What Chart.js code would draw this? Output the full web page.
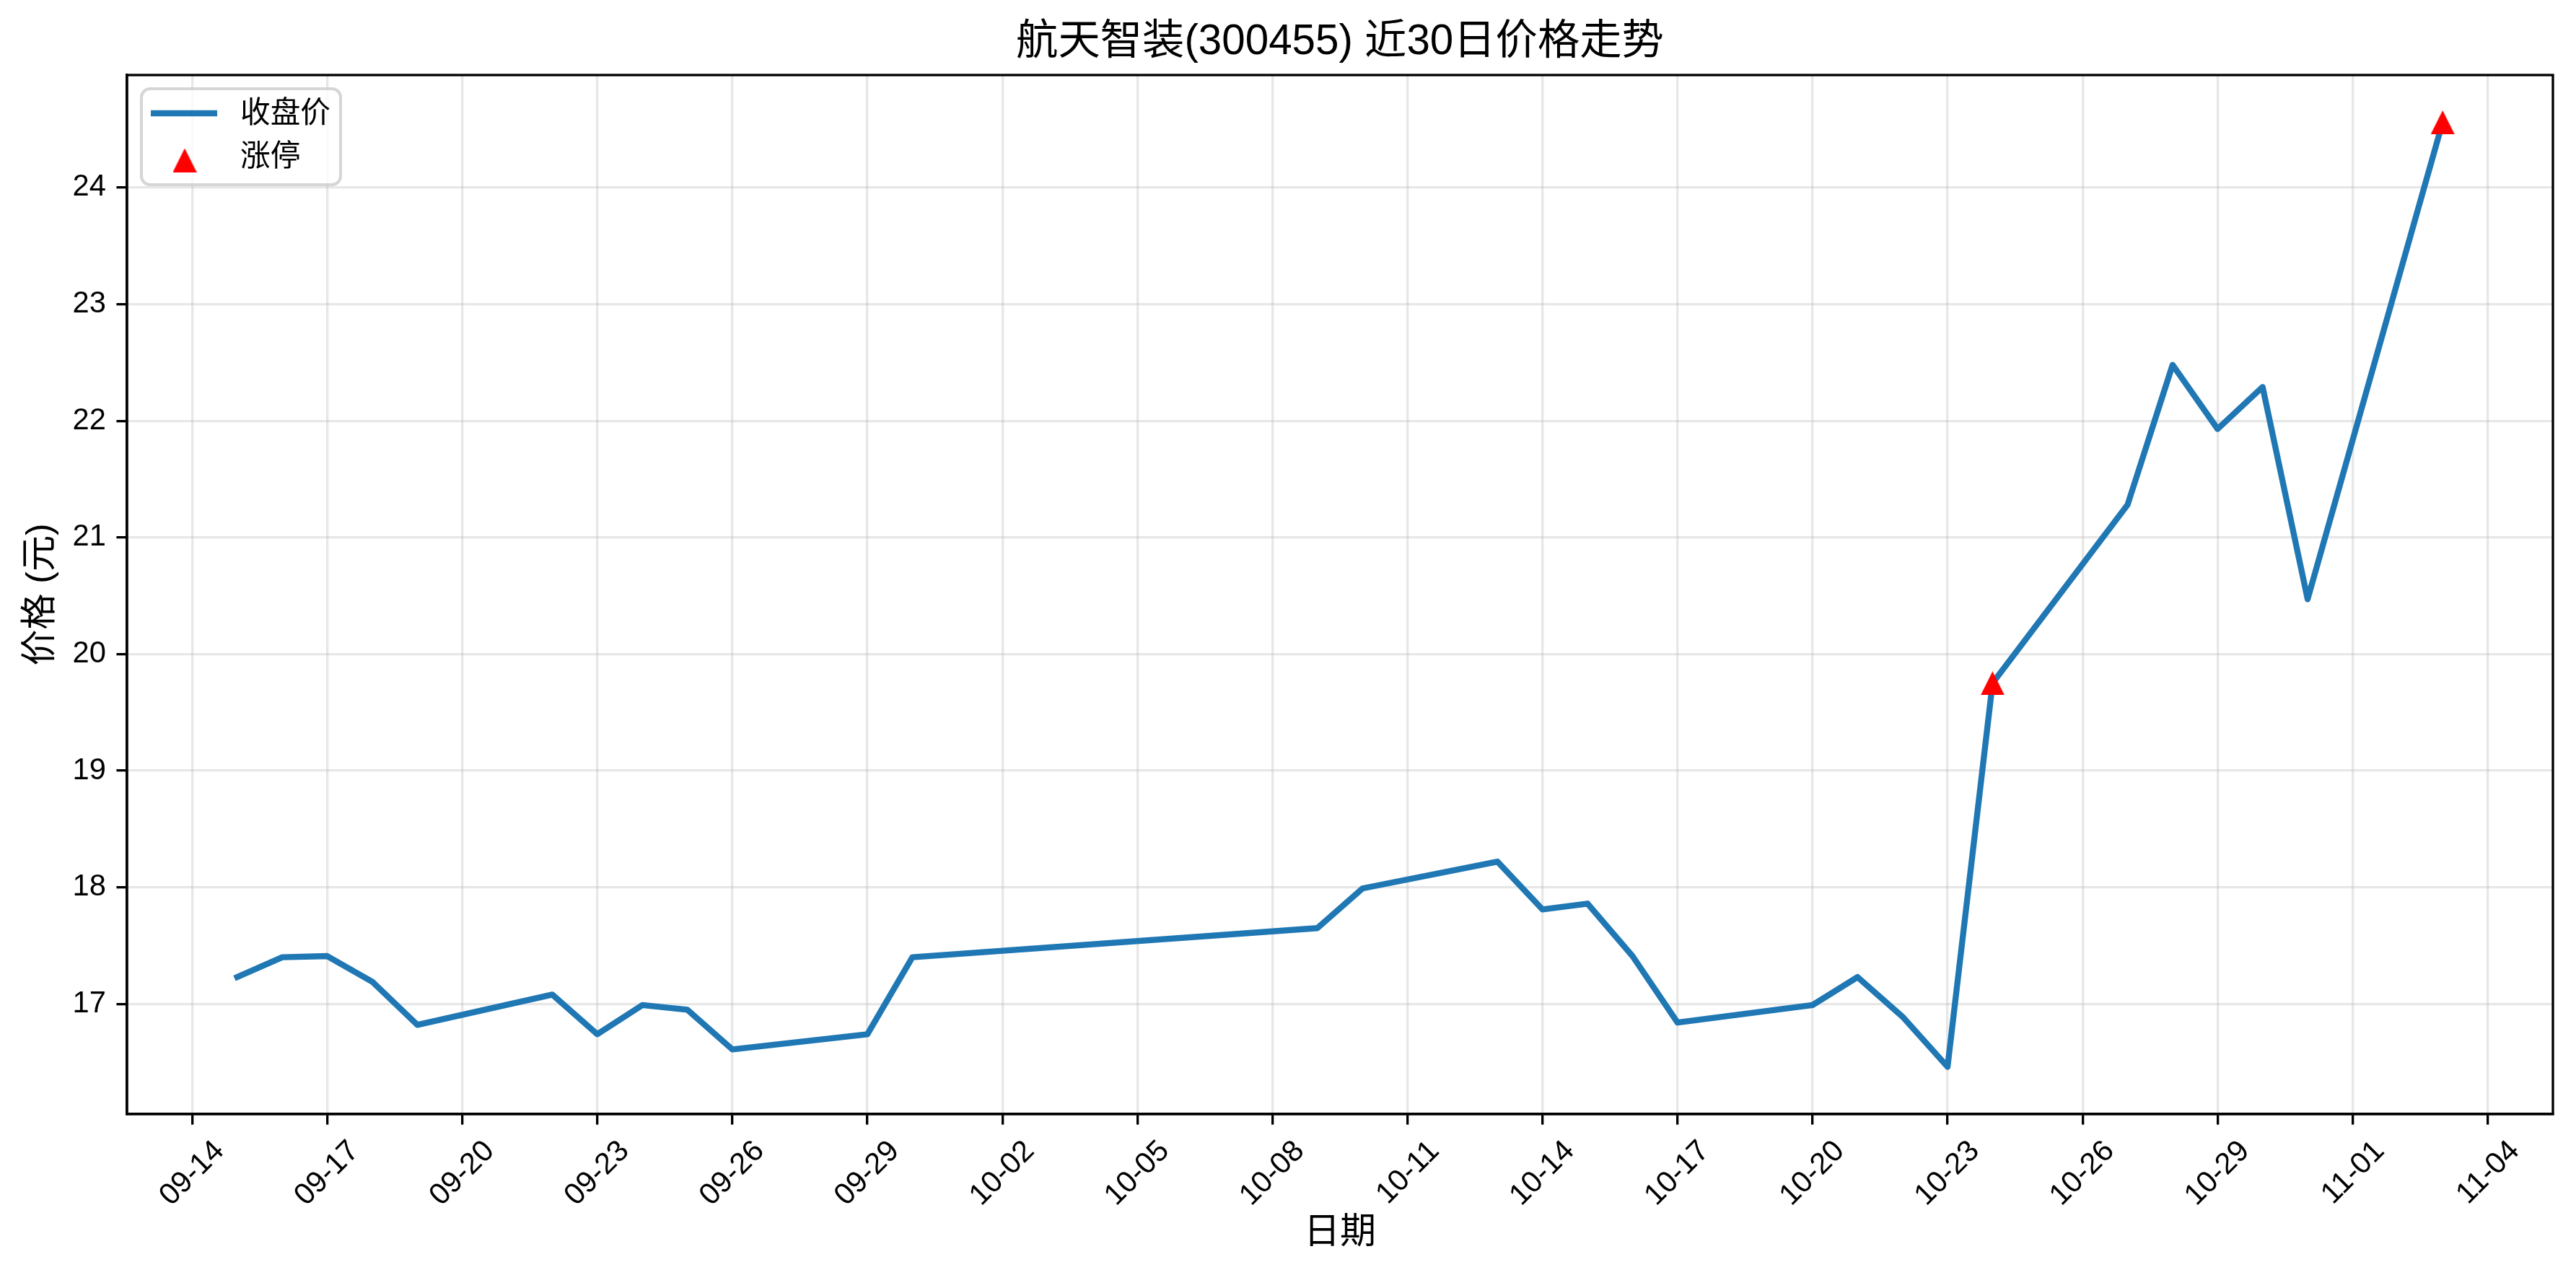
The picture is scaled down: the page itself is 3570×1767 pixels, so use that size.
<!DOCTYPE html>
<html lang="zh">
<head>
<meta charset="UTF-8">
<title>航天智装(300455) 近30日价格走势</title>
<script src="https://cdn.jsdelivr.net/npm/chart.js"></script>
<style>
  html, body { margin: 0; padding: 0; background: #fff; }
  #wrap { width: 3570px; height: 1767px; }
</style>
</head>
<body>
<div id="wrap"><canvas id="priceChart" width="3570" height="1767"></canvas></div>
<script>
// 交易日 (2025) 与收盘价
const dates = ['09-15','09-16','09-17','09-18','09-19','09-22','09-23','09-24','09-25','09-26',
               '09-29','09-30','10-09','10-10','10-13','10-14','10-15','10-16','10-17','10-20',
               '10-21','10-22','10-23','10-24','10-27','10-28','10-29','10-30','10-31','11-03'];
const closePrices = [17.23,17.40,17.41,17.19,16.82,17.08,16.74,16.99,16.95,16.61,
                     16.74,17.40,17.65,17.99,18.22,17.81,17.86,17.41,16.84,16.99,
                     17.23,16.89,16.46,19.75,21.28,22.48,21.93,22.29,20.47,24.56];
// 涨停日
const limitUpDates = ['10-24','11-03'];
const limitUpPrices = [19.75, 24.56];
// 刻度
const xTickLabels = ['09-14','09-17','09-20','09-23','09-26','09-29','10-02','10-05','10-08',
                     '10-11','10-14','10-17','10-20','10-23','10-26','10-29','11-01','11-04'];
const yTicks = [17, 18, 19, 20, 21, 22, 23, 24];

const FONT = '"Liberation Sans", "Noto Sans CJK SC", sans-serif';
const PT = 300 / 72;   // 1pt in px at 300dpi

function dayNum(md) {
    const [m, d] = md.split('-').map(Number);
    return Date.UTC(2025, m - 1, d) / 86400000;
}
const labelByDay = {};
xTickLabels.forEach(l => { labelByDay[dayNum(l)] = l; });

// matplotlib 风格的 5% 边距
const xs = dates.map(dayNum);
const xSpan = xs[xs.length - 1] - xs[0];
const xMin = xs[0] - xSpan * 0.05, xMax = xs[xs.length - 1] + xSpan * 0.05;
const yLo = Math.min(...closePrices), yHi = Math.max(...closePrices);
const yMin = yLo - (yHi - yLo) * 0.05, yMax = yHi + (yHi - yLo) * 0.05;

function triangleMarker(w, h, color) {
    const c = document.createElement('canvas');
    c.width = w; c.height = h;
    const g = c.getContext('2d');
    g.fillStyle = color;
    g.beginPath();
    g.moveTo(w / 2, 0); g.lineTo(w, h); g.lineTo(0, h);
    g.closePath(); g.fill();
    return c;
}
const redTri = triangleMarker(33, 33, '#ff0000');

// 外框 + 图例
const framePlugin = {
    id: 'frame',
    afterDatasetsDraw(chart) {
        const { ctx, chartArea: a } = chart;
        ctx.save();
        ctx.strokeStyle = '#000';
        ctx.lineWidth = 0.8 * PT;
        ctx.strokeRect(a.left, a.top, a.right - a.left, a.bottom - a.top);
        ctx.restore();
    },
    afterDraw(chart) {
        const { ctx, chartArea: a } = chart;
        const x0 = a.left + 20, y0 = a.top + 19, w = 276, h = 133, r = 12;
        ctx.save();
        ctx.beginPath();
        ctx.roundRect(x0, y0, w, h, r);
        ctx.fillStyle = 'rgba(255,255,255,0.8)';
        ctx.fill();
        ctx.strokeStyle = 'rgba(204,204,204,0.8)';
        ctx.lineWidth = PT;
        ctx.stroke();

        const line = chart.data.datasets[1];
        ctx.beginPath();
        ctx.moveTo(x0 + 13, y0 + 34);
        ctx.lineTo(x0 + 105, y0 + 34);
        ctx.strokeStyle = line.borderColor;
        ctx.lineWidth = line.borderWidth;
        ctx.lineCap = 'butt';
        ctx.stroke();
        ctx.drawImage(redTri, x0 + 60 - redTri.width / 2, y0 + 99 - redTri.height / 2);

        ctx.fillStyle = '#000';
        ctx.font = `${10 * PT}px ${FONT}`;
        ctx.textBaseline = 'middle';
        ctx.textAlign = 'left';
        ctx.fillText(line.label, x0 + 137, y0 + 36);
        ctx.fillText(chart.data.datasets[0].label, x0 + 137, y0 + 96);
        ctx.restore();
    }
};

new Chart(document.getElementById('priceChart'), {
    type: 'line',
    data: {
        datasets: [
            {
                label: '涨停',
                data: limitUpDates.map((d, i) => ({ x: dayNum(d), y: limitUpPrices[i] })),
                showLine: false,
                pointStyle: redTri,
                pointRadius: 16,
                order: 0
            },
            {
                label: '收盘价',
                data: dates.map((d, i) => ({ x: dayNum(d), y: closePrices[i] })),
                borderColor: '#1f77b4',
                borderWidth: 2 * PT,
                borderJoinStyle: 'round',
                borderCapStyle: 'square',
                pointRadius: 0,
                tension: 0,
                fill: false,
                order: 1
            }
        ]
    },
    options: {
        responsive: false,
        devicePixelRatio: 1,
        animation: false,
        events: [],
        layout: { padding: { left: 0, right: 32, top: 0, bottom: 0 } },
        plugins: {
            legend: { display: false },
            tooltip: { enabled: false },
            title: {
                display: true,
                text: '航天智装(300455) 近30日价格走势',
                fullSize: false,
                color: '#000',
                font: { family: FONT, size: 14 * PT, weight: 'normal' },
                padding: { top: 24, bottom: 10 }
            }
        },
        scales: {
            x: {
                type: 'linear',
                min: xMin,
                max: xMax,
                offset: false,
                afterFit(scale) { scale.height = 223; },
                afterBuildTicks(scale) { scale.ticks = xTickLabels.map(l => ({ value: dayNum(l) })); },
                grid: {
                    color: 'rgba(176,176,176,0.3)',
                    lineWidth: 0.8 * PT,
                    drawTicks: true,
                    tickLength: 3.5 * PT,
                    tickColor: '#000',
                    tickWidth: 0.8 * PT
                },
                border: { display: true, color: '#000', width: 0.8 * PT },
                ticks: {
                    autoSkip: false,
                    minRotation: 45,
                    maxRotation: 45,
                    padding: 12.6,
                    labelOffset: 37.7,
                    color: '#000',
                    font: { family: FONT, size: 10 * PT },
                    callback: v => labelByDay[v] || ''
                },
                title: {
                    display: true,
                    text: '日期',
                    color: '#000',
                    font: { family: FONT, size: 12 * PT },
                    padding: { top: 0, bottom: 28 }
                }
            },
            y: {
                type: 'linear',
                min: yMin,
                max: yMax,
                afterFit(scale) { scale.width = 176; },
                afterBuildTicks(scale) { scale.ticks = yTicks.map(v => ({ value: v })); },
                grid: {
                    color: 'rgba(176,176,176,0.3)',
                    lineWidth: 0.8 * PT,
                    drawTicks: true,
                    tickLength: 3.5 * PT,
                    tickColor: '#000',
                    tickWidth: 0.8 * PT
                },
                border: { display: true, color: '#000', width: 0.8 * PT },
                ticks: {
                    padding: 3.5 * PT,
                    color: '#000',
                    font: { family: FONT, size: 10 * PT },
                    callback: v => String(v)
                },
                title: {
                    display: true,
                    text: '价格 (元)',
                    color: '#000',
                    font: { family: FONT, size: 12 * PT },
                    padding: { top: 27, bottom: 0 }
                }
            }
        }
    },
    plugins: [framePlugin]
});
</script>
</body>
</html>
